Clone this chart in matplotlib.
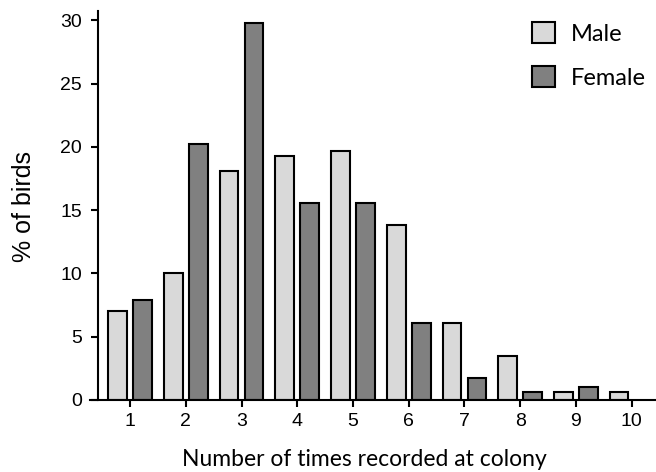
import matplotlib
matplotlib.use("Agg")
import matplotlib.pyplot as plt
import numpy as np

categories = [1, 2, 3, 4, 5, 6, 7, 8, 9, 10]
male = [7.0, 10.0, 18.1, 19.3, 19.7, 13.8, 6.1, 3.5, 0.6, 0.6]
female = [7.9, 20.2, 29.8, 15.6, 15.6, 6.1, 1.7, 0.6, 1.0, 0.0]
yticks = [0, 5, 10, 15, 20, 25, 30]

W, H = 656, 472
fig = plt.figure(figsize=(W / 100, H / 100), dpi=100)
ax = fig.add_axes([90 / W, (H - 400) / H, 566 / W, 389 / H])

x = np.array(categories, dtype=float)
off = 0.225
bw = 0.335
ax.bar(x - off, male, width=bw, color="#d9d9d9", edgecolor="black", linewidth=1.5, label="Male", zorder=2)
fem_vals = np.array(female)
mask = fem_vals > 0
ax.bar((x + off)[mask], fem_vals[mask], width=bw, color="#808080", edgecolor="black", linewidth=1.5, label="Female", zorder=2)

ax.set_xlim(0.282, 10.436)
ax.set_ylim(0, 30.75)
ax.set_xticks(categories)
ax.set_yticks(yticks)

for s in ["top", "right"]:
    ax.spines[s].set_visible(False)
ax.spines["left"].set_position(("axes", 7.5 / 566))
ax.spines["left"].set_linewidth(1.5)
ax.spines["bottom"].set_linewidth(1.5)
ax.tick_params(axis="both", direction="out", width=1.5, length=5, labelsize=14)
ax.tick_params(axis="x", pad=4)
ax.tick_params(axis="y", pad=6)
for lab in ax.get_xticklabels() + ax.get_yticklabels():
    lab.set_fontfamily("Liberation Sans")

fig.text(24 / W, 1 - 207 / H, "% of birds", rotation=90, ha="center", va="center",
         fontsize=18, family="Liberation Sans")
fig.text(364 / W, 1 - 459 / H, "Number of times recorded at colony", ha="center", va="center",
         fontsize=16.5, family="Lato")

leg = ax.legend(loc="upper left", bbox_to_anchor=(532 / W, 1 - 22 / H), bbox_transform=fig.transFigure,
                frameon=False, prop={"family": "Lato", "size": 17},
                handlelength=0.98, handleheight=0.98, handletextpad=0.65, labelspacing=0.93,
                borderpad=0, borderaxespad=0)

fig.savefig("out.png", dpi=100)
